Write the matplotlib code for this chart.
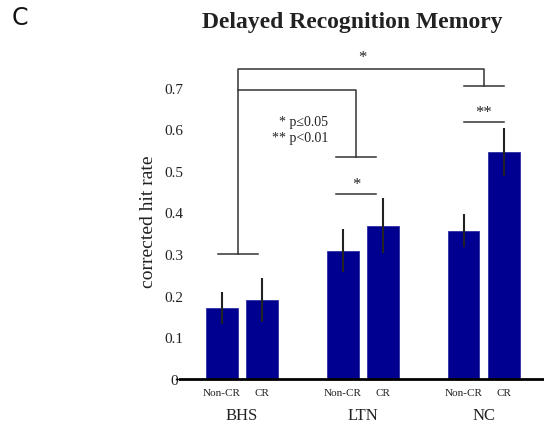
import numpy as np
import matplotlib.pyplot as plt

groups = ["BHS", "LTN", "NC"]
conds = ["Non-CR", "CR"]
means = {"Non-CR": [0.171, 0.308, 0.356], "CR": [0.190, 0.368, 0.545]}
errs = {"Non-CR": [0.038, 0.052, 0.040], "CR": [0.052, 0.066, 0.058]}
yticks = [0, 0.1, 0.2, 0.3, 0.4, 0.5, 0.6, 0.7]

plt.rcParams['font.family'] = ['Liberation Serif', 'DejaVu Serif']

fig = plt.figure(figsize=(5.44, 4.27), dpi=100)
ax = fig.add_axes([0.331, 0.110, 0.667, 0.741])

x = np.arange(len(groups))
w, off = 0.264, 0.167
navy = '#000090'
for i, c in enumerate(conds):
    xs = x + (2*i - 1)*off
    ax.bar(xs, means[c], width=w, color=navy, edgecolor='#3030a0', linewidth=0.6)
    ax.errorbar(xs, means[c], yerr=errs[c], fmt='none', ecolor='#222222',
                elinewidth=1.5, capsize=0)
    for xx in xs:
        ax.text(xx, -0.022, c, ha='center', va='top', fontsize=8, color='#222222')

for g, xx in zip(groups, x):
    ax.text(xx, -0.068, g, ha='center', va='top', fontsize=12, color='#222222')

ax.set_xlim(-0.512, 2.49)
ax.set_ylim(0, 0.76)
ax.set_yticks(yticks)
ax.set_yticklabels(["0"] + ["%.1f" % v for v in yticks[1:]], fontsize=11,
                   color='#222222', ha='center')
ax.set_xticks([])
for s in ['top', 'right', 'left']:
    ax.spines[s].set_visible(False)
ax.spines['bottom'].set_linewidth(2)
ax.tick_params(axis='y', length=0, pad=4.5)
ax.plot([-0.545, -0.512], [0, 0], color='black', lw=1, clip_on=False)
ax.set_ylabel("corrected hit rate", fontsize=14, color='#222222')
ax.yaxis.set_label_coords(-0.063, 0.5)

# significance brackets
lc = '#333333'
lw = 1.1
half = 0.165
def hbar(cx, y):
    ax.plot([cx - half, cx + half], [y, y], color=lc, lw=lw)

bx = -0.033
lx = 0.945
hbar(bx, 0.30)
hbar(2, 0.705)
ax.plot([bx, bx, 2, 2], [0.30, 0.745, 0.745, 0.705], color=lc, lw=lw)
ax.plot([bx, lx, lx], [0.695, 0.695, 0.533], color=lc, lw=lw)
hbar(lx, 0.533)
hbar(lx, 0.445)
hbar(2, 0.618)
ax.text(1, 0.755, "*", ha='center', va='bottom', fontsize=12, color='#222222')
ax.text(lx, 0.450, "*", ha='center', va='bottom', fontsize=12, color='#222222')
ax.text(2, 0.623, "**", ha='center', va='bottom', fontsize=12, color='#222222')
ax.text(0.715, 0.599, "* p\u22640.05\n** p<0.01", ha='right', va='center',
        fontsize=10, color='#222222', linespacing=1.35)

fig.text(0.647, 0.948, "Delayed Recognition Memory", ha='center', va='center',
         fontsize=17, fontweight='bold', color='#222222')
fig.text(0.022, 0.958, "C", ha='left', va='center', fontsize=17,
         family='DejaVu Sans', color='#111111')

fig.savefig("out.png", dpi=100)
